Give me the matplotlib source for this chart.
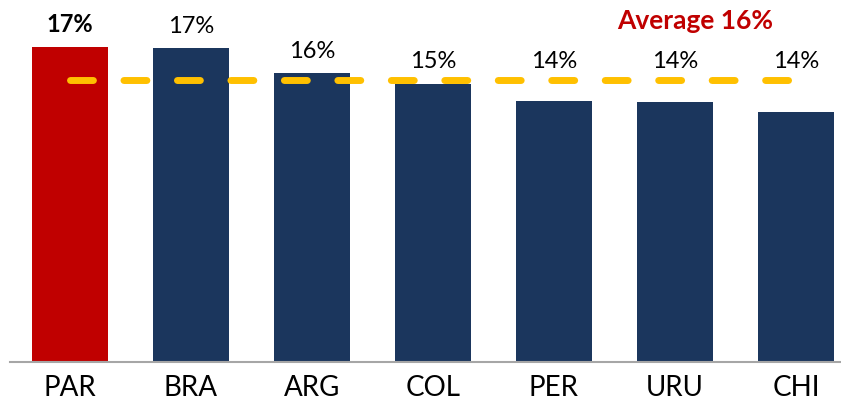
import numpy as np
import matplotlib.pyplot as plt

countries = ["PAR", "BRA", "ARG", "COL", "PER", "URU", "CHI"]
values = [17.03, 16.98, 15.6, 15.03, 14.1, 14.05, 13.5]
labels = ["17%", "17%", "16%", "15%", "14%", "14%", "14%"]
average = 15.24
avg_label = "Average 16%"

red = "#C00000"
navy = "#1B365D"
gold = "#FFC000"

plt.rcParams['font.family'] = ['Lato', 'DejaVu Sans']

fig = plt.figure(figsize=(8.41, 4.02), dpi=100)
ax = fig.add_axes([10/841, 39/402, 831/841, 363/402])

x = np.arange(len(countries))
colors = [red] + [navy]*(len(countries)-1)
ax.bar(x, values, width=0.63, color=colors, zorder=2)

# average line (dashed, round caps)
ax.plot([x[0], x[-1]], [average, average], color=gold, lw=5,
        dashes=(3.3, 4.4), dash_capstyle='round', zorder=3)

# value labels, bumped above the average line when they would hit it
for i in range(len(x)):
    ly = max(values[i] + 0.88, 15.95)
    ax.text(x[i], ly, labels[i], ha='center', va='baseline',
            fontsize=17, fontweight='bold' if i == 0 else 'normal', color='black')

ax.text(5.165, 18.05, avg_label, ha='center', va='baseline', fontsize=19,
        fontweight='bold', color=red)

ax.set_xlim((10-70)/121, (841-70)/121)
ax.set_ylim(0, 363/18.5)
ax.set_xticks(x)
ax.set_xticklabels(countries, fontsize=20)
ax.tick_params(axis='x', length=0, pad=9)
ax.set_yticks([])
for s in ['top', 'right', 'left']:
    ax.spines[s].set_visible(False)
ax.spines['bottom'].set_color('#A6A6A6')
ax.spines['bottom'].set_linewidth(1.5)

fig.savefig("out.png", dpi=100)
